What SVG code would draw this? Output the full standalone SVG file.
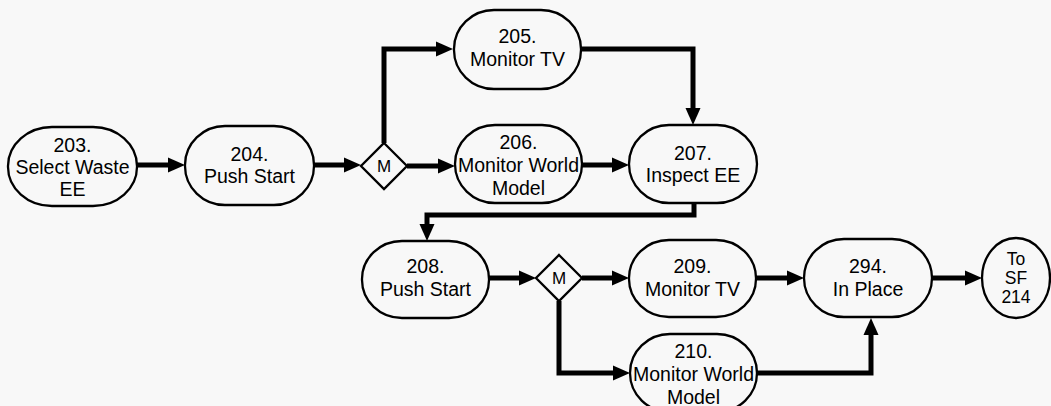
<svg xmlns="http://www.w3.org/2000/svg" width="1051" height="406" viewBox="0 0 1051 406">
<style>
.bg{fill:#f8f8f8}
.n{fill:#f8f8f8;stroke:#000;stroke-width:2.3}
.t{font-family:"Liberation Sans",Arial,sans-serif;font-size:19.5px;fill:#000;text-anchor:middle}
.s{font-family:"Liberation Sans",Arial,sans-serif;font-size:17.5px;fill:#000;text-anchor:middle}
.m{font-family:"Liberation Sans",Arial,sans-serif;font-size:17px;fill:#000;text-anchor:middle}
.c{fill:none;stroke:#000;stroke-width:5;stroke-linejoin:miter}
</style>
<defs>
<marker id="ah" markerUnits="userSpaceOnUse" markerWidth="18" markerHeight="16" refX="7" refY="7.5" orient="auto" viewBox="0 0 18 15">
<path d="M0,0 L17,7.5 L0,15 z" fill="#000"/>
</marker>
</defs>
<rect class="bg" x="0" y="0" width="1051" height="406"/>
<g id="connectors">
<path class="c" marker-end="url(#ah)" d="M137,165 H175"/>
<path class="c" marker-end="url(#ah)" d="M314,165 H351"/>
<path class="c" marker-end="url(#ah)" d="M407,166 H445"/>
<path class="c" marker-end="url(#ah)" d="M384,143 V49 H443"/>
<path class="c" marker-end="url(#ah)" d="M581,49 H693 V115"/>
<path class="c" marker-end="url(#ah)" d="M582,165 H619"/>
<path class="c" marker-end="url(#ah)" d="M694,202 V215 H427 V231"/>
<path class="c" marker-end="url(#ah)" d="M489,278 H526"/>
<path class="c" marker-end="url(#ah)" d="M582,278 H619"/>
<path class="c" marker-end="url(#ah)" d="M559,301 V373 H620"/>
<path class="c" marker-end="url(#ah)" d="M756,278 H794"/>
<path class="c" marker-end="url(#ah)" d="M757,373 H871 V328"/>
<path class="c" marker-end="url(#ah)" d="M932,278 H972"/>
</g>
<g id="n203"><rect class="n" x="8" y="127" width="129" height="79" rx="44" ry="39"/>
<text class="t" x="72.5" y="152">203.</text><text class="t" x="72.5" y="174">Select Waste</text><text class="t" x="72.5" y="196">EE</text></g>
<g id="n204"><rect class="n" x="185" y="126" width="129" height="79" rx="40" ry="39"/>
<text class="t" x="249.5" y="161">204.</text><text class="t" x="249.5" y="183">Push Start</text></g>
<g id="d1"><polygon class="n" points="384,143 407,166 384,189 361,166"/><text class="m" x="384" y="172">M</text></g>
<g id="n205"><rect class="n" x="454" y="10" width="127" height="79" rx="40" ry="39"/>
<text class="t" x="517.5" y="43">205.</text><text class="t" x="517.5" y="66">Monitor TV</text></g>
<g id="n206"><rect class="n" x="455" y="125" width="127" height="78" rx="40" ry="39"/>
<text class="t" x="518.5" y="149">206.</text><text class="t" x="518.5" y="172">Monitor World</text><text class="t" x="518.5" y="195">Model</text></g>
<g id="n207"><rect class="n" x="629" y="125" width="128" height="78" rx="40" ry="39"/>
<text class="t" x="693" y="160">207.</text><text class="t" x="693" y="182">Inspect EE</text></g>
<g id="n208"><rect class="n" x="362" y="241" width="127" height="77" rx="40" ry="38"/>
<text class="t" x="425.5" y="273">208.</text><text class="t" x="425.5" y="296">Push Start</text></g>
<g id="d2"><polygon class="n" points="559,255 582,278 559,301 536,278"/><text class="m" x="559" y="284">M</text></g>
<g id="n209"><rect class="n" x="629" y="240" width="127" height="77" rx="40" ry="38"/>
<text class="t" x="692.5" y="273">209.</text><text class="t" x="692.5" y="296">Monitor TV</text></g>
<g id="n210"><rect class="n" x="630" y="334" width="127" height="78" rx="40" ry="39"/>
<text class="t" x="693.5" y="358">210.</text><text class="t" x="693.5" y="381">Monitor World</text><text class="t" x="693.5" y="404">Model</text></g>
<g id="n294"><rect class="n" x="804" y="239" width="128" height="78" rx="40" ry="39"/>
<text class="t" x="868" y="273">294.</text><text class="t" x="868" y="296">In Place</text></g>
<g id="sf214"><ellipse class="n" cx="1016" cy="278" rx="34" ry="40"/>
<text class="s" x="1016" y="265">To</text><text class="s" x="1016" y="284">SF</text><text class="s" x="1016" y="303">214</text></g>
</svg>
